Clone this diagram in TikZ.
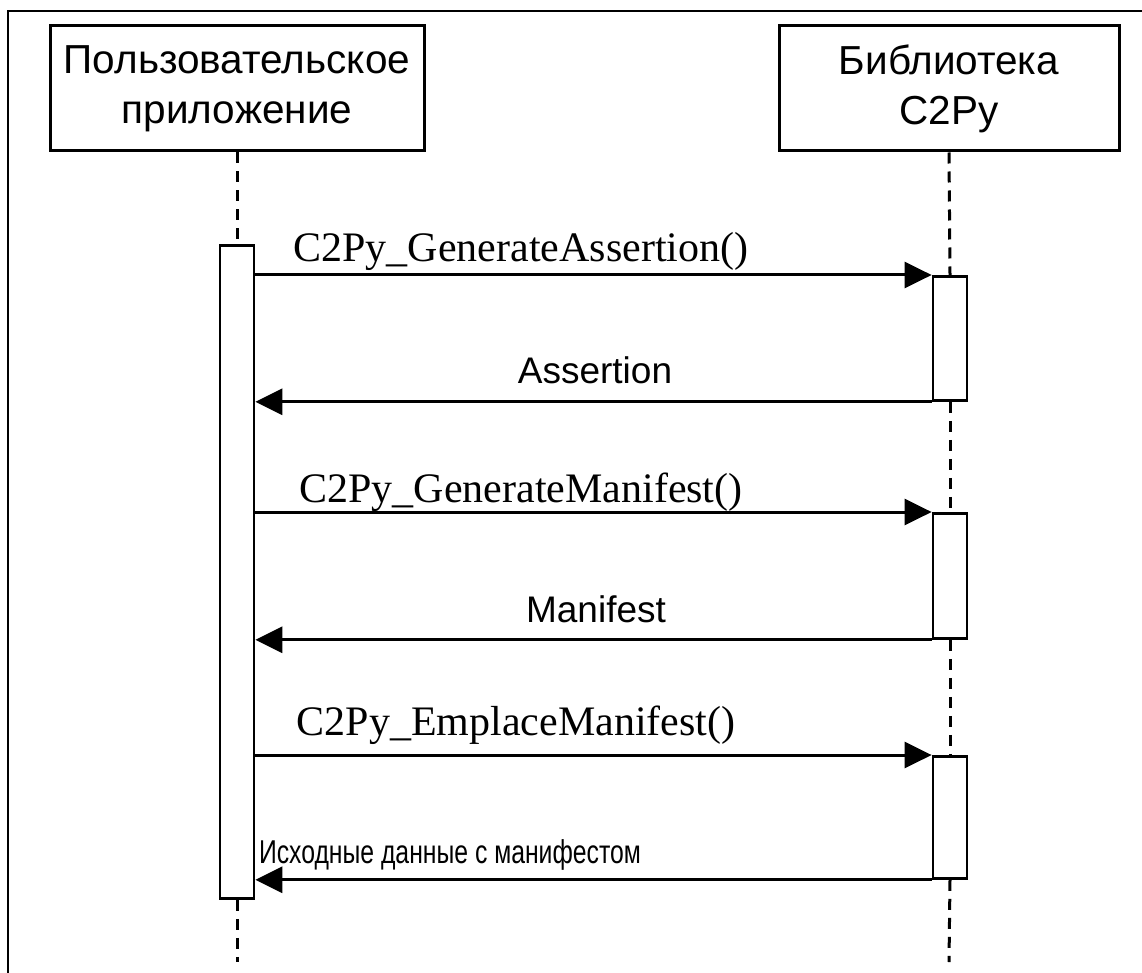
\documentclass[tikz,border=0pt]{standalone}
\usepackage{fontspec}
\setmainfont{Liberation Sans}
\newfontfamily\callfont{Liberation Serif}
\newfontfamily\narrowfont[FakeStretch=0.75]{Liberation Sans}
\usetikzlibrary{arrows.meta}
\tikzset{
  head/.style={draw, line width=3pt, minimum width=374pt, minimum height=125pt,
    align=center, font=\fontsize{40.5}{50}\selectfont},
  act/.style={draw, line width=2.8pt, fill=white, minimum width=34pt,
    inner sep=0pt, anchor=north},
  life/.style={line width=3pt, dash pattern=on 11pt off 8pt},
  msg/.style={line width=3pt, -{Triangle[length=27pt,width=26pt]}},
  calllbl/.style={anchor=base, inner sep=0pt, font=\callfont\fontsize{42}{44}\selectfont},
  retlbl/.style={anchor=base, inner sep=0pt, font=\fontsize{37}{40}\selectfont},
  narrowlbl/.style={anchor=base, inner sep=0pt, font=\narrowfont\fontsize{33}{38}\selectfont},
}
\begin{document}
\begin{tikzpicture}[x=1pt,y=-1pt]
\useasboundingbox[fill=white] (0,0) rectangle (1142,973);
% frame
\draw[line width=2pt] (8,973) -- (8,11) -- (1142,11);

% participants
\node[head] (user) at (237,88.5) {Пользовательское\\приложение};
\node[head, minimum width=340pt] (lib) at (949,88.5) {Библиотека\\C2Py};

% activation bars
\node[act, minimum height=653pt] (actU) at (237,244) {};
\node[act, minimum height=124pt] (a1) at (950,275) {};
\node[act, minimum height=125pt] (a2) at (950,512) {};
\node[act, minimum height=122pt] (a3) at (950,755) {};

% lifeline ends
\coordinate (endU) at (237,962);
\coordinate (endL) at (949,962);

% lifelines
\draw[life] (user.south) -- (actU.north);
\draw[life] (actU.south) -- (endU);
\draw[life] (lib.south) -- (a1.north);
\draw[life] (a1.south) -- (a2.north);
\draw[life] (a2.south) -- (a3.north);
\draw[life] (a3.south) -- (endL);

% messages
\draw[msg] (actU.east |- a1.north) -- (a1.north west);
\draw[msg] (a1.south west) -- (actU.east |- a1.south);
\draw[msg] (actU.east |- a2.north) -- (a2.north west);
\draw[msg] (a2.south west) -- (actU.east |- a2.south);
\draw[msg] (actU.east |- a3.north) -- (a3.north west);
\draw[msg] (a3.south west) -- (actU.east |- a3.south);

% labels
\node[calllbl] (l1) at (521,262) {C2Py\_GenerateAssertion()};
\node[retlbl] (l2) at (595,383) {Assertion};
\node[calllbl] (l3) at (521,502) {C2Py\_GenerateManifest()};
\node[retlbl] (l4) at (596,622) {Manifest};
\node[calllbl] (l5) at (516,735) {C2Py\_EmplaceManifest()};
\node[narrowlbl] (l6) at (450,863) {Исходные данные с манифестом};
\end{tikzpicture}
\end{document}
